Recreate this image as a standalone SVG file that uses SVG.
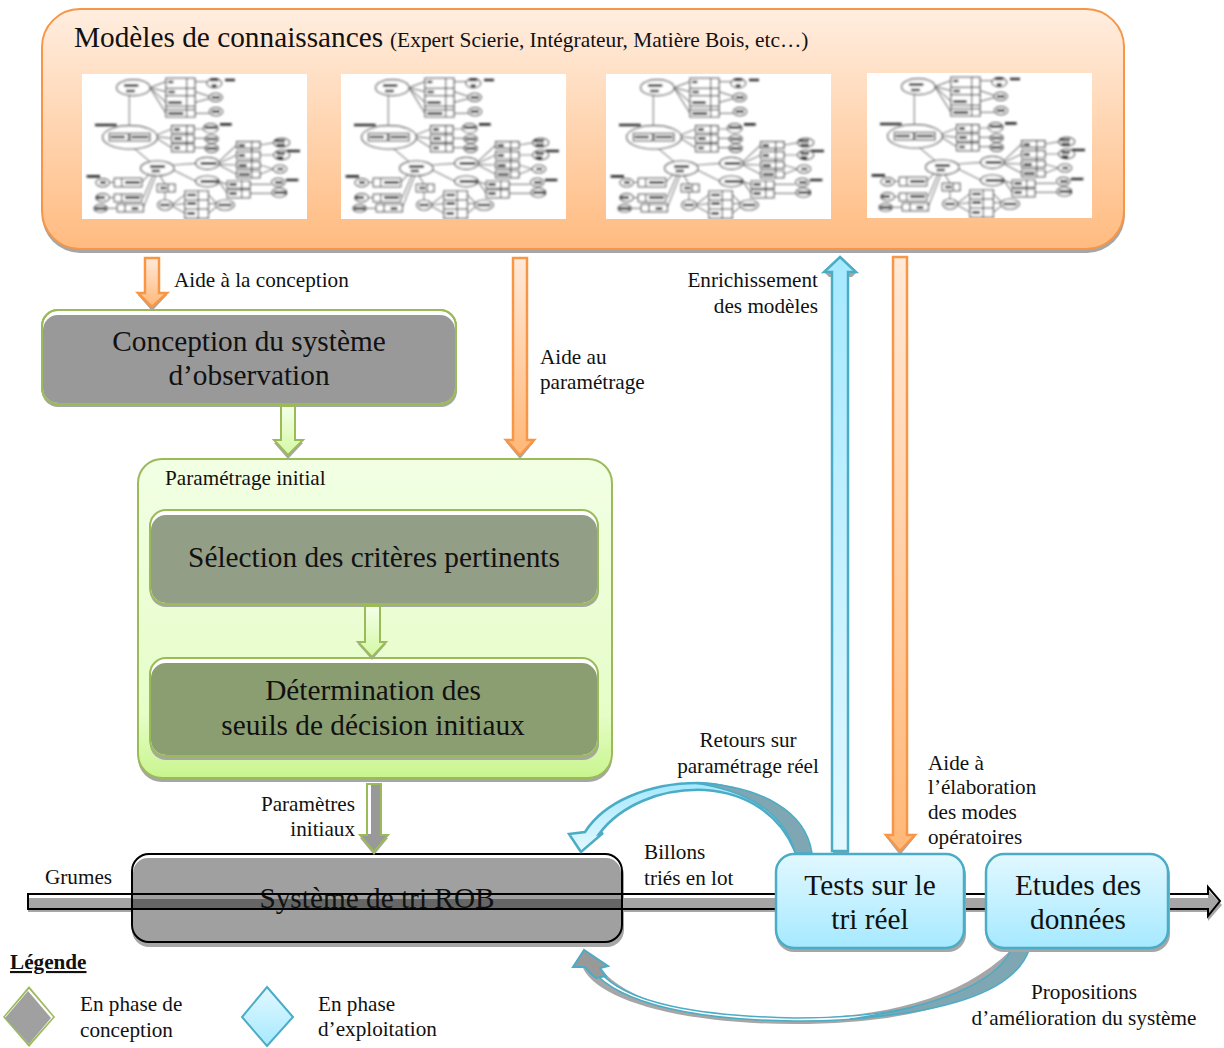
<svg xmlns="http://www.w3.org/2000/svg" xmlns:xlink="http://www.w3.org/1999/xlink" width="1224" height="1048" viewBox="0 0 1224 1048">
<style>
text{font-family:"Liberation Serif","Times New Roman",serif;fill:#111}
.l{font-size:21.2px}
.b{font-size:29.3px}
.m{text-anchor:middle}
.e{text-anchor:end}
.sh{fill:#a6a6a6}
.gs{stroke:#9bbb59;stroke-width:2}
.bs{stroke:#4bacc6;stroke-width:2.5}
.os{stroke:#f79646;stroke-width:2.5}
</style>
<defs>
<linearGradient id="gO" x1="0" y1="0" x2="0" y2="1"><stop offset="0" stop-color="#ffeee0"/><stop offset="1" stop-color="#ffbb80"/></linearGradient>
<linearGradient id="gOa" x1="0" y1="0" x2="0" y2="1"><stop offset="0" stop-color="#ffe9d8"/><stop offset="1" stop-color="#ffb878"/></linearGradient>
<linearGradient id="gG" x1="0" y1="0" x2="0" y2="1"><stop offset="0" stop-color="#f2ffe4"/><stop offset=".8" stop-color="#e6fdc8"/><stop offset="1" stop-color="#c9f58e"/></linearGradient>
<linearGradient id="gGa" x1="0" y1="0" x2="0" y2="1"><stop offset="0" stop-color="#f4ffe8"/><stop offset="1" stop-color="#d4f8a4"/></linearGradient>
<linearGradient id="gB" x1="0" y1="0" x2="0" y2="1"><stop offset="0" stop-color="#e2f8ff"/><stop offset="1" stop-color="#a6e9ff"/></linearGradient>
<linearGradient id="gBu" x1="0" y1="0" x2="0" y2="1"><stop offset="0" stop-color="#a6e9ff"/><stop offset="1" stop-color="#e2f8ff"/></linearGradient>
<filter id="blur" x="-5%" y="-5%" width="110%" height="110%"><feGaussianBlur stdDeviation="2.6"/></filter>
<g id="thumb">
<rect width="225" height="145" fill="#fff"/>
<svg width="225" height="145" viewBox="0 0 225 145">
<g filter="url(#blur)" transform="translate(-12 -9) scale(.3333)" fill="#fff" stroke="#444" stroke-width="3.5">
<path fill="none" stroke="#888" d="M178 90V185M190 248L240 290M240 68L288 50M240 68L288 80M240 68L288 112M240 68L288 145M375 50H411M375 80L420 95M375 112L420 100M375 145H418M260 210L305 192M260 215L305 220M260 220L305 248M372 192H400M372 220H405M372 248H405M310 300L378 295M310 315L378 349M447 290L500 240M447 295L500 270M447 298L500 300M447 300L500 328M570 240L613 233M570 270L613 270M570 300L610 312M570 328L610 312M447 350L472 358M447 350L472 385M540 358H603M540 385H605M215 352L240 325M220 398L250 328M220 428L258 330M285 358L270 332M285 380V405M305 420L345 389M307 420L345 416M305 422L345 445M415 389L440 415M415 416H437M415 445L440 425M118 352H133M118 398H133M112 430H142"/>
<ellipse cx="190" cy="68" rx="50" ry="24"/>
<ellipse cx="433" cy="55" rx="22" ry="14"/><ellipse cx="437" cy="97" rx="20" ry="12"/><ellipse cx="438" cy="140" rx="20" ry="12"/>
<ellipse cx="180" cy="217" rx="82" ry="35"/>
<ellipse cx="422" cy="190" rx="22" ry="14"/><ellipse cx="425" cy="222" rx="20" ry="12"/><ellipse cx="425" cy="250" rx="20" ry="12"/>
<ellipse cx="635" cy="233" rx="24" ry="13"/><ellipse cx="635" cy="270" rx="24" ry="14"/><ellipse cx="630" cy="312" rx="20" ry="12"/>
<ellipse cx="412" cy="295" rx="35" ry="18"/><ellipse cx="412" cy="349" rx="35" ry="16"/><ellipse cx="262" cy="310" rx="50" ry="22"/>
<ellipse cx="98" cy="353" rx="20" ry="12"/><ellipse cx="98" cy="398" rx="20" ry="12"/><ellipse cx="92" cy="430" rx="20" ry="11"/>
<ellipse cx="285" cy="420" rx="22" ry="15"/><ellipse cx="465" cy="420" rx="28" ry="15"/>
<ellipse cx="625" cy="352" rx="20" ry="12"/><ellipse cx="628" cy="383" rx="22" ry="13"/>
<path d="M288 40H375V156H288ZM288 70H375M288 92H375M288 124H375M288 134H375M350 40V156M305 182H372V204H305ZM305 210H372V232H305ZM305 238H372V260H305ZM350 182V260M500 230H570V250H500ZM500 260H570V282H500ZM500 290H570V310H500ZM500 318H570V338H500ZM545 230V338M133 340H215V365H133ZM133 388H215V410H133ZM142 418H220V440H142ZM262 358H315V380H262ZM155 340V365M155 388V410M165 418V440M295 358V380M345 378H415V460H345ZM345 405H415M345 432H415M385 378V460M472 348H540V370H472ZM472 375H540V398H472ZM515 348V398M118 205H175V228H118ZM180 205H240V228H180Z"/>
<path fill="none" stroke="#333" stroke-width="8" d="M162 62H205M168 78H195M295 51H310M295 81H315M295 113H335M295 145H340M420 45H445M425 62H440M425 97H450M425 140H450M465 45H495M75 180H140M122 216H165M185 216H235M312 193H330M312 221H335M312 249H330M405 188H440M410 222H440M410 250H440M450 178H485M506 241H525M506 271H525M506 301H530M506 329H540M615 228H645M620 240H645M620 265H645M620 278H640M650 258H690M622 312H640M392 295H440M392 349H445M240 305H285M245 318H270M50 334H90M90 353H108M78 398H105M76 430H108M165 352H210M165 398H210M185 430H205M270 369H290M270 420H300M352 390H378M352 416H378M352 445H375M445 420H485M478 358H500M478 386H500M615 352H638M612 383H648M648 345H685"/>
</g>
</svg>
</g>
</defs>

<g id="connectors-back">
<path class="sh" d="M28 898H1208V890L1222 905L1208 921V912H28Z"/>
</g>

<g id="models">
<rect x="42" y="13" width="1083" height="240" rx="38" class="sh"/>
<rect x="42" y="9" width="1082" height="240" rx="38" fill="url(#gO)" stroke="#f79646" stroke-width="2"/>
<text x="74" y="47" class="b">Modèles de connaissances</text>
<text x="390" y="47" style="font-size:21.4px">(Expert Scierie, Intégrateur, Matière Bois, etc…)</text>
<use xlink:href="#thumb" href="#thumb" x="82" y="74"/>
<use xlink:href="#thumb" href="#thumb" x="341" y="74"/>
<use xlink:href="#thumb" href="#thumb" x="606" y="74"/>
<use xlink:href="#thumb" href="#thumb" x="867" y="73"/>
</g>

<g id="conception">
<rect x="42" y="313" width="415" height="94" rx="16" class="sh"/>
<rect x="42" y="310" width="414" height="94" rx="16" fill="#fff" class="gs"/>
<rect x="43" y="315" width="412" height="88" rx="15" fill="#999"/>
<rect x="42" y="310" width="414" height="94" rx="16" fill="none" class="gs"/>
<text x="249" y="351" class="b m">Conception du système</text>
<text x="249" y="385" class="b m">d’observation</text>
</g>

<g id="parametrage">
<rect x="138" y="462" width="474" height="320" rx="24" class="sh"/>
<rect x="138" y="459" width="474" height="319" rx="24" fill="url(#gG)" class="gs"/>
<text x="165" y="485" class="l">Paramétrage initial</text>
</g>

<g id="selection">
<rect x="150" y="513" width="449" height="94" rx="16" class="sh"/>
<rect x="150" y="510" width="448" height="94" rx="16" fill="#fff"/>
<rect x="151" y="515" width="446" height="88" rx="15" fill="#939e87"/>
<rect x="150" y="510" width="448" height="94" rx="16" fill="none" class="gs"/>
<text x="374" y="567" class="b m">Sélection des critères pertinents</text>
</g>

<g id="determination">
<rect x="150" y="662" width="449" height="98" rx="16" class="sh"/>
<rect x="150" y="658" width="448" height="98" rx="16" fill="#fff"/>
<rect x="151" y="663" width="446" height="92" rx="15" fill="#8b9e72"/>
<rect x="150" y="658" width="448" height="98" rx="16" fill="none" class="gs"/>
<text x="373" y="700" class="b m">Détermination des</text>
<text x="373" y="735" class="b m">seuils de décision initiaux</text>
</g>

<g id="systeme">
<rect x="132" y="858" width="492" height="89" rx="17" class="sh"/>
<rect x="132" y="854" width="490" height="88" rx="17" fill="#fff"/>
<rect x="133" y="858" width="488" height="84" rx="15" fill="#a0a0a0"/>
<rect x="132" y="899" width="490" height="10" fill="#666"/>
<rect x="132" y="854" width="490" height="88" rx="17" fill="none" stroke="#000" stroke-width="2"/>
<text x="377" y="908" class="b m">Système de tri ROB</text>
</g>

<g id="connectors">
<path fill="none" stroke="#000" stroke-width="2" d="M776 894H28V909H776M964 894H986M964 909H986M1168 894H1208V887L1220 901L1208 916V909H1168"/>
<path class="sh" d="M138 295L152 311L167 295Z"/>
<path fill="url(#gOa)" class="os" d="M145 258H159V293H167L152 307L138 293H145Z"/>
<path class="sh" d="M506 442L520 459L534 442Z"/>
<path fill="url(#gOa)" class="os" d="M513 258H527V440H534L520 455L506 440H513Z"/>
<path class="sh" d="M886 837L900 855L915 837Z"/>
<path fill="url(#gOa)" class="os" d="M893 257H907V835H915L900 851L886 835H893Z"/>
<path class="sh" d="M274 443L288 459L303 443Z"/>
<path fill="url(#gGa)" class="gs" d="M281 406H295V440H303L288 455L274 440H281Z"/>
<path class="sh" d="M358 644L372 660L386 644Z"/>
<path fill="url(#gGa)" class="gs" d="M365 606H380V642H386L372 657L358 642H365Z"/>
<path class="sh" d="M360 838L374 855L388 838Z"/>
<path fill="#999" class="gs" d="M367 784H381V835H388L374 852L360 835H367Z"/>
<path fill="#fff" d="M368 785H371V834H368Z"/>
<path class="sh" d="M824 272H857L852 277H829Z"/>
<rect x="833" y="850" width="16" height="4" fill="#7fa6b3"/>
<path fill="url(#gBu)" class="bs" d="M840 257L856 272H848V851H832V272H824Z"/>
<path fill="url(#gBu)" class="bs" d="M581 852L569 834L585 832C604 802 648 783 698 783C748 784 786 812 795 851C780 815 748 793 705 790C660 788 620 806 599 834L603 833Z"/>
<path fill="#7fa6b3" stroke="#4bacc6" stroke-width="1.5" d="M812 853C806 812 762 785 694 783C745 790 785 812 795 853Z"/>
<path class="sh" d="M584 950L573 967L583 968C598 1000 680 1024 794 1024C900 1024 985 1005 1029 952L1011 950C960 1000 880 1018 794 1018C700 1018 630 1005 600 968L608 966Z"/>
<path fill="#fff" stroke="#4bacc6" stroke-width="1.5" d="M598 970C625 1004 700 1016 794 1018C880 1018 950 1005 990 975C950 1010 870 1022 794 1021C700 1020 620 1005 592 970Z"/>
<path fill="#7fa6b3" stroke="#4bacc6" stroke-width="1.5" d="M1011 950H1029C1015 990 950 1012 850 1019C930 1008 995 985 1011 950Z"/>
<path fill="#999" stroke="#4bacc6" stroke-width="2" d="M584 950L573 967L585 967C590 973 592 975 596 978L606 976L600 968L608 966Z"/>
</g>

<g id="tests">
<rect x="776" y="857" width="190" height="95" rx="18" class="sh"/>
<rect x="776" y="854" width="188" height="94" rx="18" fill="url(#gB)" class="bs"/>
<text x="870" y="895" class="b m">Tests sur le</text>
<text x="870" y="929" class="b m">tri réel</text>
</g>

<g id="etudes">
<rect x="986" y="857" width="184" height="95" rx="18" class="sh"/>
<rect x="986" y="854" width="182" height="94" rx="18" fill="url(#gB)" class="bs"/>
<text x="1078" y="895" class="b m">Etudes des</text>
<text x="1078" y="929" class="b m">données</text>
</g>

<g id="labels">
<text x="174" y="287" class="l">Aide à la conception</text>
<text x="540" y="364" class="l">Aide au</text>
<text x="540" y="389" class="l">paramétrage</text>
<text x="818" y="287" class="l e">Enrichissement</text>
<text x="818" y="313" class="l e">des modèles</text>
<text x="748" y="747" class="l m">Retours sur</text>
<text x="748" y="773" class="l m">paramétrage réel</text>
<text x="928" y="770" class="l">Aide à</text>
<text x="928" y="794" class="l">l’élaboration</text>
<text x="928" y="819" class="l">des modes</text>
<text x="928" y="844" class="l">opératoires</text>
<text x="355" y="811" class="l e">Paramètres</text>
<text x="355" y="836" class="l e">initiaux</text>
<text x="45" y="884" class="l">Grumes</text>
<text x="644" y="859" class="l">Billons</text>
<text x="644" y="885" class="l">triés en lot</text>
<text x="1084" y="999" class="l m">Propositions</text>
<text x="1084" y="1025" class="l m">d’amélioration du système</text>
</g>

<g id="legende">
<text x="10" y="969" class="l" font-weight="bold" text-decoration="underline">Légende</text>
<path d="M29 986L55 1017L29 1047L3 1017Z" fill="#9bbb59"/>
<path d="M29 989L53 1017L29 1044L5 1017Z" fill="#fff"/>
<path d="M28 991L51 1018L29 1044L5 1018Z" fill="#a0a0a0"/>
<text x="80" y="1011" class="l">En phase de</text>
<text x="80" y="1037" class="l">conception</text>
<path d="M267 987L293 1017L267 1046L242 1017Z" fill="url(#gB)" class="bs" style="stroke-width:2"/>
<text x="318" y="1011" class="l">En phase</text>
<text x="318" y="1036" class="l">d’exploitation</text>
</g>
</svg>
